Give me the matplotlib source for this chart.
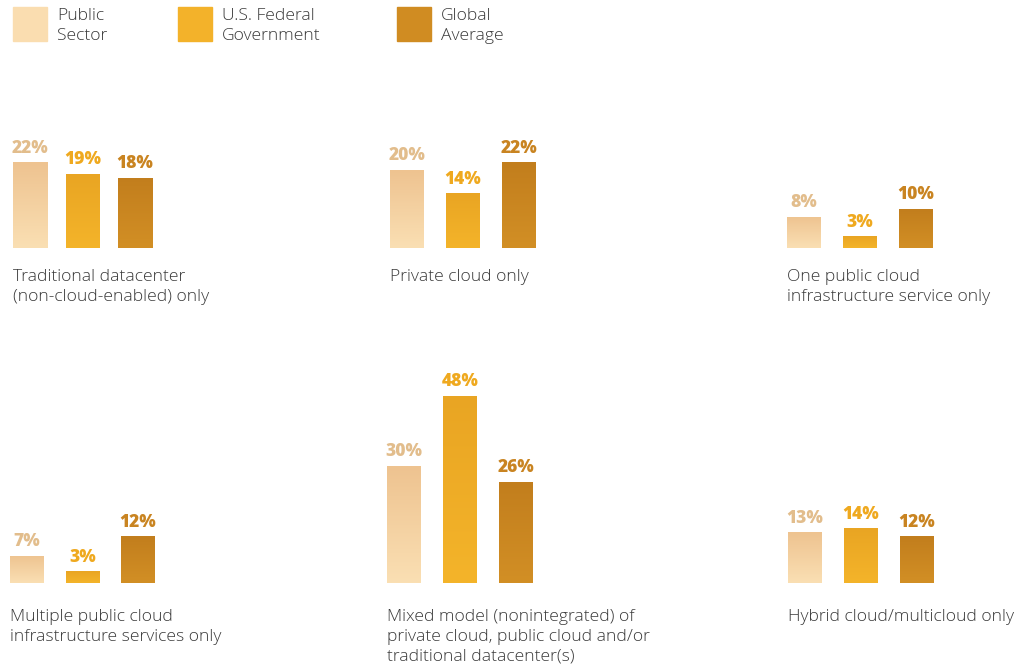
import numpy as np
import matplotlib.pyplot as plt
from matplotlib.colors import LinearSegmentedColormap

plt.rcParams['font.family'] = ['Open Sans', 'Lato', 'DejaVu Sans']

series = ["Public\nSector", "U.S. Federal\nGovernment", "Global\nAverage"]
categories = [
    "Traditional datacenter\n(non-cloud-enabled) only",
    "Private cloud only",
    "One public cloud\ninfrastructure service only",
    "Multiple public cloud\ninfrastructure services only",
    "Mixed model (nonintegrated) of\nprivate cloud, public cloud and/or\ntraditional datacenter(s)",
    "Hybrid cloud/multicloud only",
]
public_sector = [22, 20, 8, 7, 30, 13]
federal = [19, 14, 3, 3, 48, 14]
global_avg = [18, 22, 10, 12, 26, 12]

# bottom / top gradient colours, legend colour, label colour
grad = [("#FADFB3", "#EEC390"), ("#F4B42A", "#E9A523"), ("#D28F25", "#C27E1D")]
legend_cols = ["#FADDB0", "#F3B22A", "#D08C22"]
label_cols = ["#E2BD8C", "#EFA91F", "#C98421"]
text_col = "#3a3a3a"

W, H = 1021, 666
fig = plt.figure(figsize=(W / 100, H / 100), dpi=100)

def fx(x):
    return x / W

def fy(y):
    return 1 - y / H

# panel layout in pixels: centre of first bar, bar spacing, baseline, label gap
layout = [(30, 52.5, 248, 21), (407, 56, 248, 21), (804, 56, 248, 21),
          (27, 55.5, 583, 26), (404, 56, 583, 26), (805, 56, 583, 26)]
bar_px = 34
px_per_unit = 3.9
ymax = 60

for i, cat in enumerate(categories):
    c0, sp, base, gap = layout[i]
    left = c0 - sp / 2
    ax = fig.add_axes([fx(left), fy(base), fx(3 * sp), ymax * px_per_unit / H])
    vals = [public_sector[i], federal[i], global_avg[i]]
    bars = ax.bar(range(3), vals, width=bar_px / sp, color="none", edgecolor="none")
    for j, b in enumerate(bars):
        cmap = LinearSegmentedColormap.from_list("g", [grad[j][0], grad[j][1]])
        g = np.linspace(0, 1, 100).reshape(-1, 1)
        im = ax.imshow(g, cmap=cmap, origin="lower", aspect="auto",
                       extent=[b.get_x(), b.get_x() + b.get_width(), 0, b.get_height()])
        im.set_clip_path(b)
        ax.annotate(f"{vals[j]}%", (b.get_x() + b.get_width() / 2, b.get_height()),
                    xytext=(0, 4), textcoords="offset points", ha="center", va="bottom",
                    fontsize=12.5, fontweight="heavy", color=label_cols[j])
    ax.set_xlim(-0.5, 2.5)
    ax.set_ylim(0, ymax)
    ax.axis("off")
    fig.text(fx(c0 - bar_px / 2), fy(base + gap), cat, ha="left", va="top",
             fontsize=12.6, fontweight="light", color=text_col, linespacing=1.3)

# legend
leg_x = [13, 178, 397]
for k in range(3):
    fig.patches.append(plt.Rectangle((fx(leg_x[k]), fy(41)), fx(34), 34 / H,
                                     transform=fig.transFigure, color=legend_cols[k]))
    fig.text(fx(leg_x[k] + 44), fy(26), series[k], ha="left", va="center",
             fontsize=12.6, fontweight="light", color=text_col, linespacing=1.25)

fig.savefig("out.png", dpi=100)
